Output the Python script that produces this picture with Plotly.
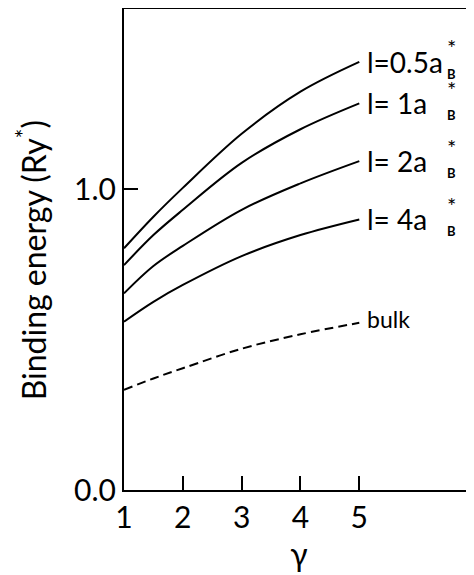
import plotly.graph_objects as go

GAMMA = [1, 1.5, 2, 3, 4, 5]
L05 = [0.804, 0.909, 1.005, 1.185, 1.325, 1.424]
L1 = [0.748, 0.848, 0.932, 1.088, 1.200, 1.286]
L2 = [0.654, 0.745, 0.812, 0.932, 1.020, 1.094]
L4 = [0.560, 0.626, 0.682, 0.778, 0.848, 0.900]
BULK = [0.333, 0.371, 0.405, 0.470, 0.518, 0.556]

SERIES = [("l=0.5a", L05), ("l= 1a", L1), ("l= 2a", L2), ("l= 4a", L4)]
X_TICKS = [1, 2, 3, 4, 5]
Y_TICKS = [0, 1]
Y_TICKTEXT = ["0.0", "1.0"]

FONT = "Lato"
fig = go.Figure()
for name, vals in SERIES:
    fig.add_trace(go.Scatter(x=GAMMA, y=vals, mode="lines",
                             line=dict(color="black", width=2, shape="spline", smoothing=1.0),
                             showlegend=False, hoverinfo="skip"))
fig.add_trace(go.Scatter(x=GAMMA, y=BULK, mode="lines",
                         line=dict(color="black", width=2, dash="9px,5px", shape="spline", smoothing=1.0),
                         showlegend=False, hoverinfo="skip"))

anns = []
for name, vals in SERIES:
    anns.append(dict(x=GAMMA[-1], y=vals[-1], text=name, showarrow=False, xanchor="left",
                     yanchor="middle", xshift=6, font=dict(family=FONT, size=28, color="black")))
    anns.append(dict(x=GAMMA[-1], y=vals[-1], text="*", showarrow=False, xanchor="left",
                     yanchor="middle", xshift=86, yshift=14, font=dict(family=FONT, size=22, color="black")))
    anns.append(dict(x=GAMMA[-1], y=vals[-1], text="<b>B</b>", showarrow=False, xanchor="left",
                     yanchor="middle", xshift=86, yshift=-12, font=dict(family=FONT, size=13, color="black")))
anns.append(dict(x=GAMMA[-1], y=BULK[-1], text="bulk", showarrow=False, xanchor="left",
                 yanchor="middle", xshift=6, yshift=4, font=dict(family=FONT, size=23, color="black")))
anns.append(dict(x=-0.265, y=0.478, xref="paper", yref="paper", text="Binding energy (Ry<sup>*</sup>)",
                 textangle=-90, showarrow=False, xanchor="center", yanchor="middle",
                 font=dict(family=FONT, size=32, color="black")))

fig.update_layout(
    width=466, height=567,
    margin=dict(l=116, r=0, t=1, b=85),
    plot_bgcolor="white", paper_bgcolor="white",
    annotations=anns,
    xaxis=dict(range=[1, 6.95], tickvals=X_TICKS, ticks="inside", ticklen=14, tickwidth=2,
               tickcolor="black", showline=True, linecolor="black", linewidth=2, mirror=True,
               showgrid=False, zeroline=False,
               tickfont=dict(family=FONT, size=30, color="black"),
               title=dict(text="γ", font=dict(family=FONT, size=32, color="black"), standoff=4)),
    yaxis=dict(range=[0, 1.6], tickvals=Y_TICKS, ticktext=Y_TICKTEXT, ticks="inside", ticklen=14,
               tickwidth=2, tickcolor="black", showline=True, linecolor="black", linewidth=2,
               showgrid=False, zeroline=False,
               tickfont=dict(family=FONT, size=30, color="black")),
)
fig.write_html("out.html")
